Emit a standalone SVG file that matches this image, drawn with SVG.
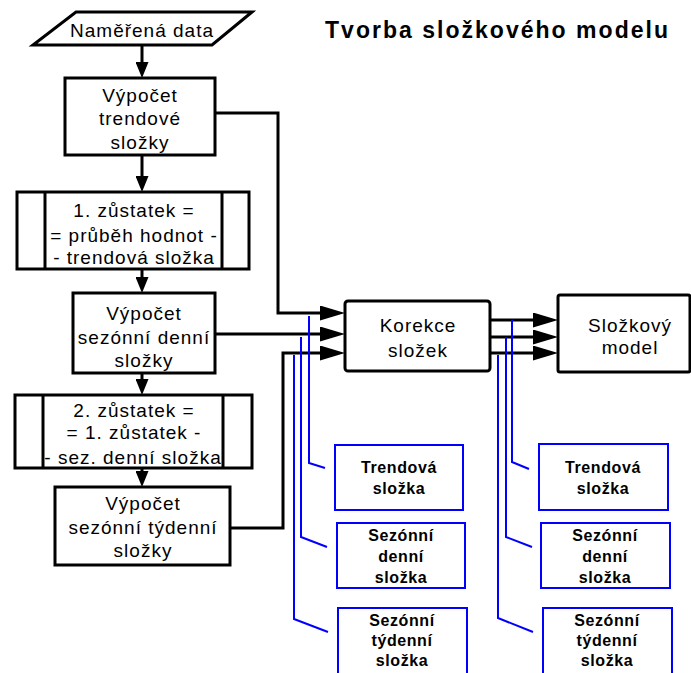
<svg xmlns="http://www.w3.org/2000/svg" width="691" height="673" viewBox="0 0 691 673">
<style>
  .box{fill:#fff;stroke:#000;stroke-width:3}
  .bbox{fill:#fff;stroke:#0000ff;stroke-width:2}
  .t{font-family:"Liberation Sans",Arial,sans-serif;font-size:19px;letter-spacing:1px;text-anchor:middle;fill:#000}
  .bt{font-family:"Liberation Sans",Arial,sans-serif;font-size:16px;font-weight:bold;letter-spacing:0.6px;text-anchor:middle;fill:#000}
  .title{font-family:"Liberation Sans",Arial,sans-serif;font-size:23px;font-weight:bold;fill:#000}
  .c{fill:none;stroke:#000;stroke-width:3}
  .bl{fill:none;stroke:#0000ff;stroke-width:2}
</style>
<defs>
  <marker id="arrD" markerUnits="userSpaceOnUse" markerWidth="16" markerHeight="13" refX="0" refY="6.5" orient="auto">
    <path d="M0,0 L16,6.5 L0,13 z" fill="#000"/>
  </marker>
  <marker id="arrR" markerUnits="userSpaceOnUse" markerWidth="25" markerHeight="15" refX="0" refY="7.5" orient="auto">
    <path d="M0,0 L25,7.5 L0,15 z" fill="#000"/>
  </marker>
</defs>

<text class="title" x="325" y="38" textLength="343" lengthAdjust="spacing">Tvorba složkového modelu</text>

<g id="connectors">
  <path class="c" d="M142,45 V62" marker-end="url(#arrD)"/>
  <path class="c" d="M142,155 V176" marker-end="url(#arrD)"/>
  <path class="c" d="M142,269 V277" marker-end="url(#arrD)"/>
  <path class="c" d="M142,373 V379" marker-end="url(#arrD)"/>
  <path class="c" d="M142,468 V471" marker-end="url(#arrD)"/>
  <path class="c" d="M215,113 H278 V313 H320" marker-end="url(#arrR)"/>
  <path class="c" d="M215,334 H320" marker-end="url(#arrR)"/>
  <path class="c" d="M230,528 H283 V353 H320" marker-end="url(#arrR)"/>
  <path class="c" d="M490,320 H533" marker-end="url(#arrR)"/>
  <path class="c" d="M490,337 H533" marker-end="url(#arrR)"/>
  <path class="c" d="M490,353 H533" marker-end="url(#arrR)"/>
  <path class="bl" d="M309,316 V463 L325,468"/>
  <path class="bl" d="M301,337 V537 L327,547"/>
  <path class="bl" d="M294,355 V619 L328,632"/>
  <path class="bl" d="M512,320 V462 L529,469"/>
  <path class="bl" d="M506,337 V537 L532,547"/>
  <path class="bl" d="M498,355 V618 L533,632"/>
</g>

<g id="data">
  <polygon class="box" points="76,12 252,12 212,45 33,45"/>
  <text class="t" x="142" y="37">Naměřená data</text>
</g>

<g id="trend">
  <rect class="box" x="65" y="78" width="150" height="77"/>
  <text class="t" x="140" y="102">Výpočet</text>
  <text class="t" x="140" y="125">trendové</text>
  <text class="t" x="140" y="149">složky</text>
</g>

<g id="zustatek1">
  <rect class="box" x="17" y="192" width="232" height="77"/>
  <line class="box" x1="45" y1="192" x2="45" y2="269"/>
  <line class="box" x1="222" y1="192" x2="222" y2="269"/>
  <text class="t" x="134" y="217">1. zůstatek =</text>
  <text class="t" x="134" y="242">= průběh hodnot -</text>
  <text class="t" x="134" y="264">- trendová složka</text>
</g>

<g id="denni">
  <rect class="box" x="73" y="293" width="142" height="80"/>
  <text class="t" x="144" y="320">Výpočet</text>
  <text class="t" x="144" y="344">sezónní denní</text>
  <text class="t" x="144" y="367">složky</text>
</g>

<g id="zustatek2">
  <rect class="box" x="15" y="395" width="237" height="73"/>
  <line class="box" x1="43" y1="395" x2="43" y2="468"/>
  <line class="box" x1="223" y1="395" x2="223" y2="468"/>
  <text class="t" x="134" y="417">2. zůstatek =</text>
  <text class="t" x="134" y="439">= 1. zůstatek -</text>
  <text class="t" x="133" y="464">- sez. denní složka</text>
</g>

<g id="tydenni">
  <rect class="box" x="55" y="487" width="175" height="78"/>
  <text class="t" x="143" y="510">Výpočet</text>
  <text class="t" x="143" y="534">sezónní týdenní</text>
  <text class="t" x="143" y="557">složky</text>
</g>

<g id="korekce">
  <rect class="box" x="345" y="301" width="145" height="70" rx="3"/>
  <text class="t" x="418" y="332">Korekce</text>
  <text class="t" x="418" y="357">složek</text>
</g>

<g id="model">
  <rect class="box" x="558" y="295" width="132" height="77" rx="2"/>
  <text class="t" x="630" y="332">Složkový</text>
  <text class="t" x="630" y="354">model</text>
</g>

<g id="in-trend">
  <rect class="bbox" x="335" y="445" width="128" height="65"/>
  <text class="bt" x="399" y="473">Trendová</text>
  <text class="bt" x="399" y="494">složka</text>
</g>
<g id="in-denni">
  <rect class="bbox" x="337" y="523" width="128" height="65"/>
  <text class="bt" x="401" y="541">Sezónní</text>
  <text class="bt" x="401" y="562">denní</text>
  <text class="bt" x="401" y="583">složka</text>
</g>
<g id="in-tydenni">
  <rect class="bbox" x="338" y="608" width="129" height="70"/>
  <text class="bt" x="402" y="626">Sezónní</text>
  <text class="bt" x="402" y="646">týdenní</text>
  <text class="bt" x="402" y="666">složka</text>
</g>

<g id="out-trend">
  <rect class="bbox" x="539" y="444" width="129" height="66"/>
  <text class="bt" x="603" y="473">Trendová</text>
  <text class="bt" x="603" y="494">složka</text>
</g>
<g id="out-denni">
  <rect class="bbox" x="541" y="523" width="129" height="65"/>
  <text class="bt" x="605" y="541">Sezónní</text>
  <text class="bt" x="605" y="562">denní</text>
  <text class="bt" x="605" y="583">složka</text>
</g>
<g id="out-tydenni">
  <rect class="bbox" x="543" y="608" width="129" height="70"/>
  <text class="bt" x="607" y="626">Sezónní</text>
  <text class="bt" x="607" y="646">týdenní</text>
  <text class="bt" x="607" y="666">složka</text>
</g>
</svg>
